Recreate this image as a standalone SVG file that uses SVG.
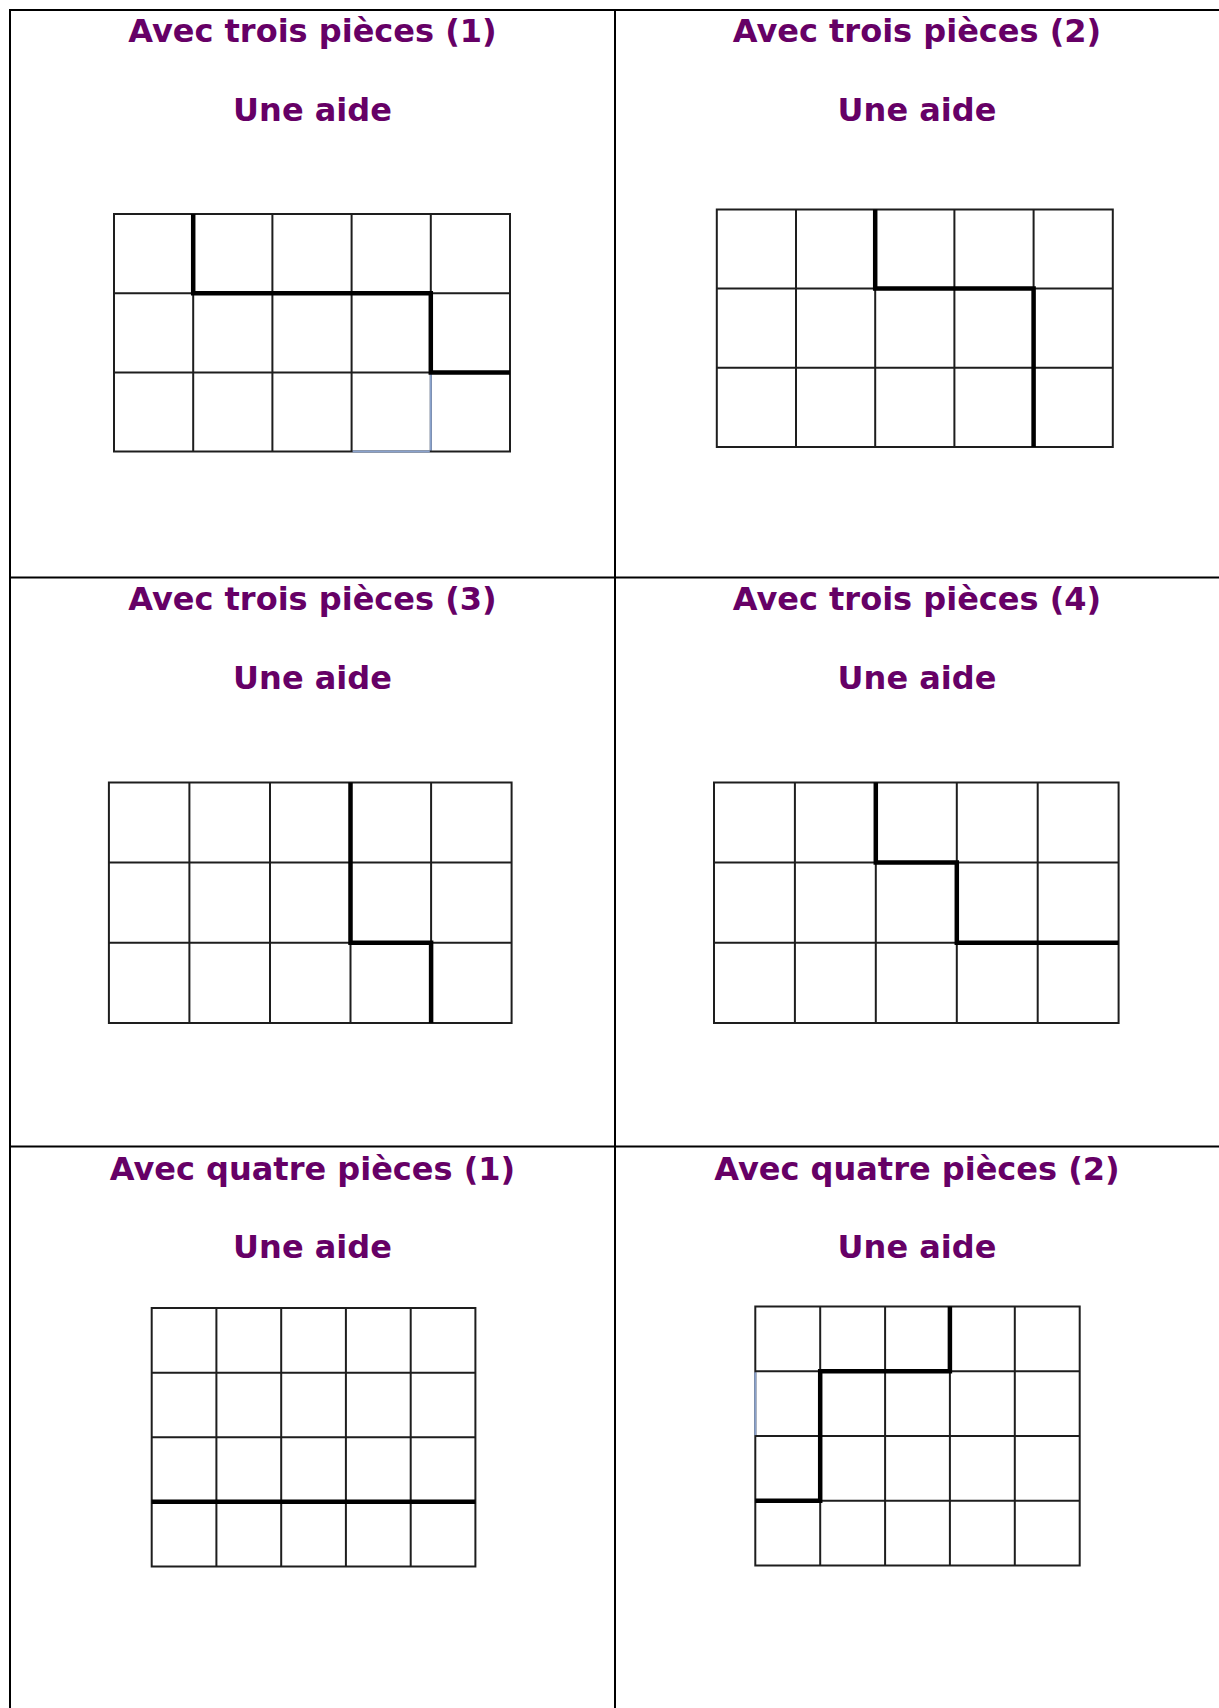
<svg xmlns="http://www.w3.org/2000/svg" width="1219" height="1708" viewBox="0 0 1219 1708">
<style>
.bg{fill:#ffffff}
.tbl{stroke:#000;stroke-width:2;fill:none}
.thin{stroke:#1e1e1e;stroke-width:2;fill:none;stroke-linecap:square}
.blue{stroke:#8aa2cc;stroke-width:2;fill:none}
.thick{stroke:#000;stroke-width:4.5;fill:none;stroke-linecap:butt;stroke-linejoin:miter}
.t{font-family:"DejaVu Sans",Verdana,sans-serif;font-weight:bold;font-size:32px;fill:#660066;text-anchor:middle}
</style>
<rect class="bg" x="0" y="0" width="1219" height="1708"/>
<g id="table">
<path class="tbl" d="M9,10 H1219 M10,9 V1708 M615,10 V1708 M10,577.5 H1219 M10,1146.6 H1219"/>
</g>
<g id="panel1">
<text class="t" x="312.5" y="42">Avec trois pièces (1)</text>
<text class="t" x="312.5" y="121">Une aide</text>
<path class="thin" d="M114,214 H510 V451.6 H114 Z M114,293.2 H510 M114,372.4 H510 M193.2,214 V451.6 M272.4,214 V451.6 M351.6,214 V451.6 M430.8,214 V451.6"/>
<path class="blue" d="M430.8,373.4 V450.6 M352.6,451.6 H429.8"/>
<path class="thick" d="M193.2,214 V293.2 H430.8 V372.4 H510"/>
</g>
<g id="panel2">
<text class="t" x="917" y="42">Avec trois pièces (2)</text>
<text class="t" x="917" y="121">Une aide</text>
<path class="thin" d="M716.8,209.4 H1112.8 V447 H716.8 Z M716.8,288.6 H1112.8 M716.8,367.8 H1112.8 M796,209.4 V447 M875.2,209.4 V447 M954.4,209.4 V447 M1033.6,209.4 V447"/>
<path class="thick" d="M875.2,209.4 V288.6 H1033.6 V447"/>
</g>
<g id="panel3">
<text class="t" x="312.5" y="610">Avec trois pièces (3)</text>
<text class="t" x="312.5" y="688.5">Une aide</text>
<path class="thin" d="M108.9,782.5 H511.6 V1022.9 H108.9 Z M108.9,862.6 H511.6 M108.9,942.8 H511.6 M189.4,782.5 V1022.9 M270,782.5 V1022.9 M350.5,782.5 V1022.9 M431.1,782.5 V1022.9"/>
<path class="thick" d="M350.5,782.5 V942.8 H431.1 V1022.9"/>
</g>
<g id="panel4">
<text class="t" x="917" y="610">Avec trois pièces (4)</text>
<text class="t" x="917" y="688.5">Une aide</text>
<path class="thin" d="M714,782.5 H1118.6 V1022.9 H714 Z M714,862.6 H1118.6 M714,942.8 H1118.6 M794.9,782.5 V1022.9 M875.8,782.5 V1022.9 M956.8,782.5 V1022.9 M1037.7,782.5 V1022.9"/>
<path class="thick" d="M875.8,782.5 V862.6 H956.8 V942.8 H1118.6"/>
</g>
<g id="panel5">
<text class="t" x="312.5" y="1179.5">Avec quatre pièces (1)</text>
<text class="t" x="312.5" y="1257.5">Une aide</text>
<path class="thin" d="M151.7,1308.1 H475.4 V1566.4 H151.7 Z M151.7,1372.7 H475.4 M151.7,1437.3 H475.4 M151.7,1501.8 H475.4 M216.4,1308.1 V1566.4 M281.2,1308.1 V1566.4 M345.9,1308.1 V1566.4 M410.7,1308.1 V1566.4"/>
<path class="thick" d="M151.7,1501.8 H475.4"/>
</g>
<g id="panel6">
<text class="t" x="917" y="1179.5">Avec quatre pièces (2)</text>
<text class="t" x="917" y="1257.5">Une aide</text>
<path class="thin" d="M755.3,1306.5 H1079.7 V1565.6 H755.3 Z M755.3,1371.3 H1079.7 M755.3,1436.1 H1079.7 M755.3,1500.8 H1079.7 M820.2,1306.5 V1565.6 M885.1,1306.5 V1565.6 M949.9,1306.5 V1565.6 M1014.8,1306.5 V1565.6"/>
<path class="blue" d="M755.3,1372.3 V1435.1"/>
<path class="thick" d="M949.9,1306.5 V1371.3 H820.2 V1500.8 H755.3"/>
</g>
</svg>
